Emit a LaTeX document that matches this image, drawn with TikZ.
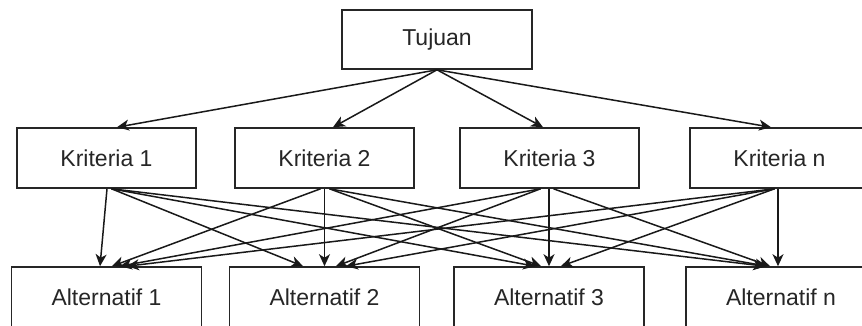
\documentclass[tikz,border=0pt]{standalone}
\usepackage{fontspec}
\setmainfont{Liberation Sans}
\usetikzlibrary{calc,arrows.meta}
\begin{document}
\begin{tikzpicture}[x=1pt,y=1pt,
  box/.style={draw=black!85,line width=1.6pt,inner sep=0pt,fill=white,
    font=\fontsize{23}{27}\selectfont,text=black!85},
  krit/.style={box,minimum width=179pt,minimum height=60pt},
  alt/.style={box,minimum width=190pt,minimum height=60pt},
  edge/.style={draw=black!90,line width=1.5pt,-{Stealth[length=12pt,width=11pt,inset=3.5pt]}}]
\clip (0,0) rectangle (862,-325);
\fill[white] (0,0) rectangle (862,-325);
\node[box,minimum width=190pt,minimum height=59pt] (T) at (437,-39.5) {Tujuan};
\node[krit] (K1) at (106.5,-158) {Kriteria 1};
\node[krit] (K2) at (324.5,-158) {Kriteria 2};
\node[krit] (K3) at (549.5,-158) {Kriteria 3};
\node[krit] (K4) at (779.5,-158) {Kriteria n};
\node[alt] (A1) at (106.5,-297) {Alternatif 1};
\node[alt] (A2) at (324.5,-297) {Alternatif 2};
\node[alt] (A3) at (549,-297) {Alternatif 3};
\node[alt] (A4) at (781,-297) {Alternatif n};
% Tujuan -> Kriteria
\draw[edge] (T.south) -- ($(K1.north)+(10.5,0)$);
\draw[edge] (T.south) -- ($(K2.north)+(8.5,0)$);
\draw[edge] (T.south) -- ($(K3.north)+(-6.5,0)$);
\draw[edge] (T.south) -- ($(K4.north)+(-8.5,0)$);
% Kriteria 1
\draw[edge] ($(K1.south)+(0.5,0)$) -- ($(A1.north)+(-6.5,0)$);
\draw[edge] ($(K1.south)+(5,0)$) -- ($(A2.north)+(-21.5,0)$);
\draw[edge] ($(K1.south)+(5,0)$) -- ($(A3.north)+(-14,0)$);
\draw[edge] ($(K1.south)+(5,0)$) -- ($(A4.north)+(-16,0)$);
% Kriteria 2
\draw[edge] ($(K2.south)+(-4,0)$) -- ($(A1.north)+(5.5,0)$);
\draw[edge] (K2.south) -- (A2.north);
\draw[edge] ($(K2.south)+(5,0)$) -- ($(A3.north)+(-8,0)$);
\draw[edge] ($(K2.south)+(5,0)$) -- ($(A4.north)+(-14,0)$);
% Kriteria 3
\draw[edge] ($(K3.south)+(-9,0)$) -- ($(A1.north)+(13.5,0)$);
\draw[edge] ($(K3.south)+(-9,0)$) -- ($(A2.north)+(11.5,0)$);
\draw[edge] ($(K3.south)+(-0.5,0)$) -- (A3.north);
\draw[edge] ($(K3.south)+(4,0)$) -- ($(A4.north)+(-11,0)$);
% Kriteria n
\draw[edge] ($(K4.south)+(-5,0)$) -- ($(A1.north)+(20.5,0)$);
\draw[edge] ($(K4.south)+(-5,0)$) -- ($(A2.north)+(21.5,0)$);
\draw[edge] ($(K4.south)+(-5,0)$) -- ($(A3.north)+(12,0)$);
\draw[edge] ($(K4.south)+(-1.5,0)$) -- ($(A4.north)+(-3,0)$);
\end{tikzpicture}
\end{document}
